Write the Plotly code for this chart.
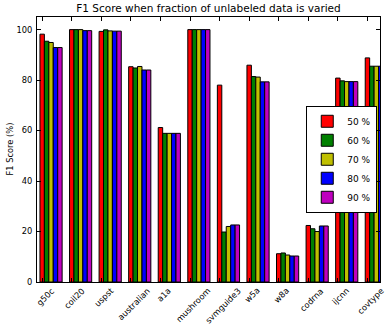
"""F1 score bar chart: fraction of unlabeled data varied"""

import plotly.graph_objects as go

# Data
datasets = ["g50c", "coil20", "uspst", "australian", "a1a", "mushroom",
            "svmguide3", "w5a", "w8a", "codrna", "ijcnn", "covtype"]
fractions = ["50 %", "60 %", "70 %", "80 %", "90 %"]

f1_50 = [98.2, 100.0, 99.3, 85.3, 61.2, 100.0, 78.0, 85.9, 11.2, 22.4, 80.8, 88.8]
f1_60 = [95.4, 100.0, 99.9, 84.8, 58.9, 100.0, 19.8, 81.4, 11.5, 21.1, 79.7, 85.5]
f1_70 = [94.9, 100.0, 99.5, 85.4, 58.9, 100.0, 22.0, 81.2, 10.7, 20.0, 79.4, 85.5]
f1_80 = [92.9, 99.6, 99.4, 84.0, 58.9, 100.0, 22.6, 79.3, 10.3, 22.2, 79.4, 85.5]
f1_90 = [92.9, 99.6, 99.4, 84.0, 58.9, 100.0, 22.6, 79.3, 10.3, 22.2, 79.4, 85.5]

series = [f1_50, f1_60, f1_70, f1_80, f1_90]
colours = ["#FF0000", "#008000", "#BFBF00", "#0000FF", "#BF00BF"]

bar_w = 0.15
ind = list(range(len(datasets)))
tick_pos = [i + bar_w / 2 for i in ind]

fig = go.Figure()
for k, (vals, name, col) in enumerate(zip(series, fractions, colours)):
    fig.add_trace(go.Bar(
        x=ind, y=vals, name=name,
        width=bar_w, offset=k * bar_w,
        marker=dict(color=col, line=dict(color="black", width=1)),
    ))

# Category labels rotated like matplotlib (centred under the tick)
for pos, lab in zip(tick_pos, datasets):
    fig.add_annotation(x=pos, y=0, xref="x", yref="paper", text=lab,
                       textangle=-45, showarrow=False, xanchor="center",
                       yanchor="top", xshift=3, yshift=-1,
                       font=dict(size=8.3, color="black"))

# y axis title placed by hand so the plot area keeps its size
fig.add_annotation(x=0, y=0.5, xref="paper", yref="paper", text="F1 Score (%)",
                   textangle=-90, showarrow=False, xanchor="center",
                   yanchor="middle", xshift=-28, font=dict(size=8.3, color="black"))

axis_common = dict(showline=True, linecolor="black", linewidth=1, mirror="allticks",
                   ticks="inside", ticklen=4, tickcolor="black", showgrid=False,
                   zeroline=False, automargin=False)

fig.update_layout(
    width=391, height=333,
    margin=dict(l=37, r=11, t=17, b=51),
    paper_bgcolor="white", plot_bgcolor="white",
    font=dict(family="DejaVu Sans", size=8.3, color="black"),
    barmode="overlay",
    title=dict(text="F1 Score when fraction of unlabeled data is varied",
               x=(37 + 380) / 2 / 391, xanchor="center", y=0.985, yanchor="top",
               font=dict(size=10.5)),
    xaxis=dict(range=[-0.1, 11.5], tickvals=tick_pos, showticklabels=False,
               **axis_common),
    yaxis=dict(range=[0, 105], tickvals=[0, 20, 40, 60, 80, 100], ticklabelstandoff=2,
               **axis_common),
    legend=dict(x=0.785, y=0.665, xanchor="left", yanchor="top",
                bordercolor="black", borderwidth=1, bgcolor="white",
                font=dict(size=9), itemwidth=30, tracegroupgap=0),
    showlegend=True,
)

# drop the default page margin so the figure sits at the window's corner
fig.write_html("out.html", config={"displayModeBar": False},
               post_script="document.body.style.margin = '0';")
